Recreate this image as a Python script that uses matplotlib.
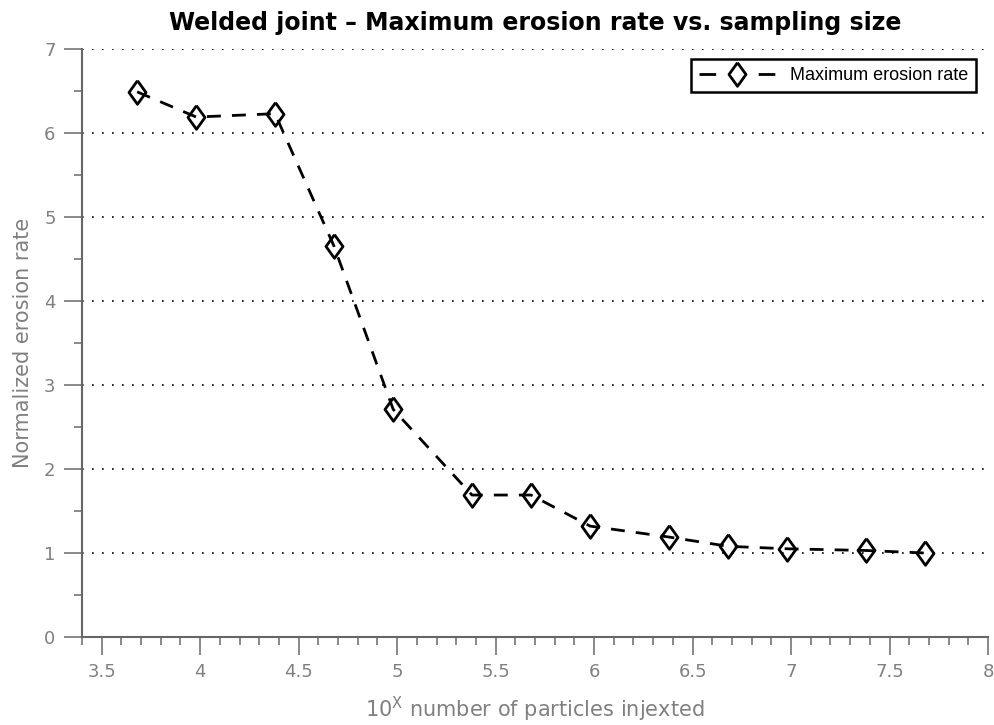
import numpy as np
import matplotlib
matplotlib.use("Agg")
import matplotlib.pyplot as plt
from matplotlib.ticker import MultipleLocator

# log10 of the number of particles injected
log_particles = [3.68, 3.98, 4.38, 4.68, 4.98, 5.38, 5.68, 5.98, 6.38, 6.68, 6.98, 7.38, 7.68]
max_erosion = [6.49, 6.19, 6.23, 4.65, 2.71, 1.69, 1.69, 1.32, 1.19, 1.08, 1.05, 1.03, 1.00]

fig = plt.figure(figsize=(9.94, 7.25), dpi=100)
ax = fig.add_axes([82 / 994, 1 - 637 / 725, 906 / 994, (637 - 49) / 725])

# matlab-like diamond, a bit wider than matplotlib's thin one
diamond = [(0, 1), (0.72, 0), (0, -1), (-0.72, 0), (0, 1)]
ax.plot(log_particles, max_erosion, color='k', linestyle=(0, (5, 4)), linewidth=2,
        marker=diamond, markersize=17, markerfacecolor='none', markeredgecolor='k',
        markeredgewidth=2, label='Maximum erosion rate')

ax.set_xlim(3.4, 8)
ax.set_ylim(0, 7)
ax.xaxis.set_minor_locator(MultipleLocator(0.1))
ax.yaxis.set_major_locator(MultipleLocator(1))
ax.yaxis.set_minor_locator(MultipleLocator(0.5))
ax.set_xticks(np.arange(3.5, 8.01, 0.5))
ax.set_xticklabels(['3.5', '4', '4.5', '5', '5.5', '6', '6.5', '7', '7.5', '8'])

grey = '0.5'
for s in ['top', 'right']:
    ax.spines[s].set_visible(False)
for s in ['left', 'bottom']:
    ax.spines[s].set_color('0.4')
    ax.spines[s].set_linewidth(1.5)
ax.tick_params(which='major', direction='out', length=13, width=1.3, colors=grey,
               labelsize=13, pad=6)
ax.tick_params(which='minor', direction='out', length=6, width=1.3, colors=grey)

ax.yaxis.grid(True, which='major', color='k', linestyle=(0, (1, 5)), linewidth=1.2)
ax.set_axisbelow(True)

ax.set_title('Welded joint \u2013 Maximum erosion rate vs. sampling size',
             fontsize=17, fontweight='bold', pad=14)
ax.set_xlabel(r'10$^{\mathrm{X}}$ number of particles injexted', fontsize=15, color=grey, labelpad=10)
ax.set_ylabel('Normalized erosion rate', fontsize=15, color=grey, labelpad=8)

leg = ax.legend(loc='upper right', bbox_to_anchor=(976 / 994, 1 - 59 / 725),
                bbox_transform=fig.transFigure, borderaxespad=0, fancybox=False,
                framealpha=1, edgecolor='k', handlelength=4.2, borderpad=0.45,
                prop={'family': 'Liberation Sans', 'size': 13})
leg.get_frame().set_linewidth(1.8)
# legend handle drawn as "- <> -"
leg.get_lines()[0].set_linestyle((0, (6, 15.3)))

fig.savefig('out.png', dpi=100)
